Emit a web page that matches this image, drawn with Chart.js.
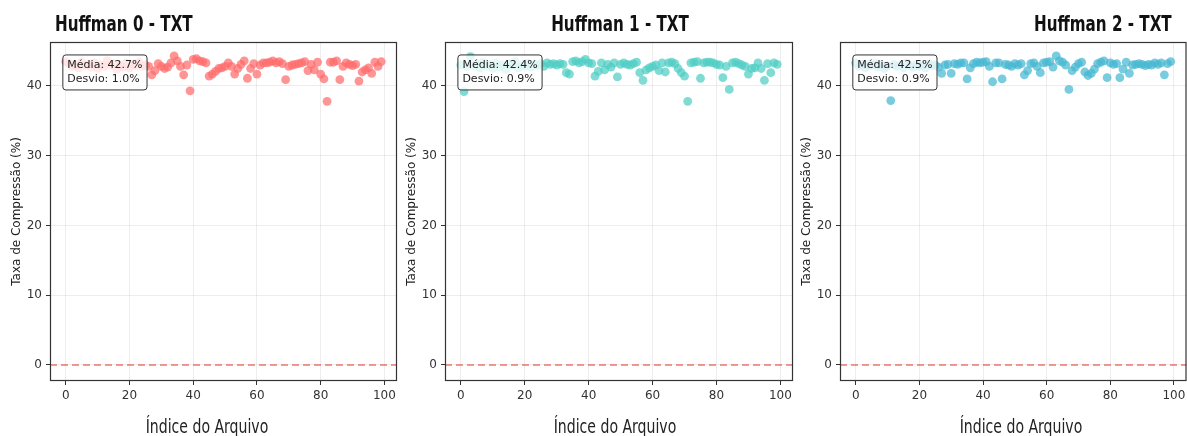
<!DOCTYPE html>
<html>
<head>
<meta charset="utf-8">
<script src="https://cdn.jsdelivr.net/npm/chart.js@4"></script>
<style>
  html, body { margin: 0; padding: 0; background: #fff; }
  #wrap { position: relative; width: 1187px; height: 436px; overflow: hidden; font-family: 'DejaVu Sans', sans-serif; }
  canvas { position: absolute; top: 0; }
  .title { position: absolute; top: 12px; font-size: 20.5px; font-weight: bold; line-height: 24px; color: #111; white-space: nowrap; transform: scaleX(0.74); }
  .xlabel { position: absolute; top: 415px; font-size: 19px; line-height: 22px; color: #222; white-space: nowrap; transform: translateX(-50%) scaleX(0.74); }
</style>
</head>
<body>
<div id="wrap">
  <canvas id="c0" width="400" height="436" style="left:0px"></canvas>
  <canvas id="c1" width="400" height="436" style="left:395px"></canvas>
  <canvas id="c2" width="397" height="436" style="left:790px"></canvas>

  <div class="title" style="left:55px; transform-origin: left center;">Huffman 0 - TXT</div>
  <div class="title" style="left:620px; transform: translateX(-50%) scaleX(0.74);">Huffman 1 - TXT</div>
  <div class="title" style="left:1034px; transform-origin: left center;">Huffman 2 - TXT</div>

  <div class="xlabel" style="left:207px">Índice do Arquivo</div>
  <div class="xlabel" style="left:615px">Índice do Arquivo</div>
  <div class="xlabel" style="left:1021px">Índice do Arquivo</div>
</div>
<script>
// compression ratio per file (%)
const huffman0 = [
  43.5, 43.2, 42.8, 43.0, 42.6, 43.4, 42.9, 43.1, 42.7, 43.3,
  42.5, 43.0, 42.8, 43.6, 42.9, 43.2, 42.4, 43.0, 42.7, 43.3,
  42.6, 43.1, 42.9, 43.4, 42.8, 43.0, 42.8, 41.6, 42.2, 43.2,
  42.8, 42.5, 42.7, 43.3, 44.3, 43.6, 42.8, 41.6, 43.0, 39.3,
  43.8, 43.9, 43.6, 43.5, 43.3, 41.4, 41.7, 42.1, 42.5, 42.6,
  42.8, 43.3, 42.8, 41.7, 42.5, 43.1, 43.6, 41.1, 42.5, 43.2,
  41.7, 43.0, 43.3, 43.3, 43.4, 43.6, 43.3, 43.5, 43.2, 40.9,
  42.8, 43.0, 43.1, 43.2, 43.3, 43.5, 42.2, 43.1, 42.3, 43.4,
  41.7, 41.0, 37.8, 43.4, 43.4, 43.6, 40.9, 42.8, 43.3, 43.1,
  42.9, 43.1, 40.7, 42.0, 42.3, 42.6, 41.8, 43.4, 42.8, 43.5
];
const huffman1 = [
  43.0, 39.2, 42.8, 44.2, 42.9, 43.2, 42.6, 43.4, 42.8, 43.1,
  42.5, 43.3, 42.7, 43.0, 42.4, 43.2, 42.9, 43.5, 42.6, 43.0,
  42.8, 43.3, 42.7, 43.1, 42.9, 43.2, 42.8, 43.3, 43.1, 43.2,
  43.0, 43.2, 43.1, 41.9, 41.7, 43.5, 43.6, 43.3, 43.5, 43.8,
  43.3, 43.2, 41.4, 42.1, 43.3, 42.3, 43.1, 42.7, 43.3, 41.3,
  43.1, 43.3, 43.1, 43.0, 43.2, 43.4, 41.9, 40.8, 42.3, 42.6,
  42.8, 43.0, 42.2, 43.3, 42.0, 43.3, 43.4, 43.2, 42.5, 41.9,
  41.4, 37.8, 43.3, 43.4, 43.5, 41.1, 43.3, 43.4, 43.4, 43.3,
  43.1, 43.0, 41.2, 42.8, 39.5, 43.3, 43.4, 43.2, 43.0, 42.8,
  41.7, 42.5, 42.6, 43.3, 42.5, 40.8, 43.2, 41.9, 43.3, 43.1
];
const huffman2 = [
  43.3, 42.8, 43.1, 42.6, 43.0, 42.9, 43.2, 42.7, 43.0, 42.5,
  42.9, 37.9, 43.1, 42.8, 43.0, 42.6, 43.3, 42.9, 42.7, 43.1,
  42.8, 43.0, 42.6, 43.2, 42.9, 43.0, 42.7, 41.8, 43.0, 43.1,
  41.8, 43.2, 43.1, 43.3, 43.3, 41.0, 42.6, 43.2, 43.4, 43.3,
  43.4, 43.5, 42.8, 40.6, 43.3, 43.3, 41.0, 43.1, 43.0, 42.8,
  43.2, 43.0, 43.2, 41.6, 42.2, 43.2, 43.3, 42.8, 41.9, 43.3,
  43.4, 43.5, 42.7, 44.3, 43.6, 43.4, 43.0, 39.5, 42.2, 42.7,
  43.2, 43.4, 42.0, 41.5, 41.8, 42.4, 43.2, 43.4, 43.6, 41.2,
  43.3, 43.1, 43.2, 41.2, 42.4, 43.4, 41.8, 43.0, 43.1, 43.2,
  43.1, 42.9, 43.1, 43.0, 43.3, 43.1, 43.3, 41.6, 43.2, 43.5
];

const seriesValues = [huffman0, huffman1, huffman2];
const meanLabels = ['42.7', '42.4', '42.5'];
const stdLabels = ['1.0', '0.9', '0.9'];
const xTicks = [0, 20, 40, 60, 80, 100];
const yTicks = [0, 10, 20, 30, 40];
const refLine = 0;

const pointColors = ['rgba(255,107,107,0.72)', 'rgba(78,205,196,0.72)', 'rgba(69,183,209,0.72)'];
const rightPad = [3, 2, 0.5];

Chart.defaults.font.family = "'DejaVu Sans', sans-serif";
Chart.defaults.color = '#333';

const framePlugin = {
  id: 'frame',
  beforeDatasetsDraw(chart) {
    const { ctx, chartArea: a, scales: { y } } = chart;
    const py = y.getPixelForValue(refLine);
    ctx.save();
    ctx.strokeStyle = 'rgba(231,76,60,0.75)';
    ctx.lineWidth = 1.5;
    ctx.setLineDash([7, 4]);
    ctx.beginPath();
    ctx.moveTo(a.left, py);
    ctx.lineTo(a.right, py);
    ctx.stroke();
    ctx.restore();
  },
  afterDatasetsDraw(chart, args, opts) {
    const { ctx, chartArea: a } = chart;
    ctx.save();
    ctx.strokeStyle = '#333';
    ctx.lineWidth = 1.2;
    ctx.strokeRect(a.left + 0.5, a.top + 0.5, a.right - a.left - 1, a.bottom - a.top - 1);

    // stats box
    const lines = ['Média: ' + opts.mean + '%', 'Desvio: ' + opts.std + '%'];
    ctx.font = "11px 'DejaVu Sans', sans-serif";
    const tx = a.left + 0.05 * (a.right - a.left);
    const ty = a.top + 0.05 * (a.bottom - a.top);
    const w = Math.max(...lines.map(l => ctx.measureText(l).width));
    const bx = tx - 4.5, by = ty - 4, bw = w + 9, bh = 35;
    ctx.beginPath();
    ctx.roundRect(bx, by, bw, bh, 3);
    ctx.fillStyle = 'rgba(255,255,255,0.8)';
    ctx.fill();
    ctx.strokeStyle = '#333';
    ctx.lineWidth = 1;
    ctx.stroke();
    ctx.fillStyle = '#222';
    ctx.textBaseline = 'alphabetic';
    ctx.fillText(lines[0], tx, ty + 9.5);
    ctx.fillText(lines[1], tx, ty + 23.5);
    ctx.restore();
  }
};

seriesValues.forEach((values, k) => {
  const ctx = document.getElementById('c' + k).getContext('2d');
  new Chart(ctx, {
    type: 'scatter',
    data: {
      datasets: [{
        data: values.map((v, i) => ({ x: i, y: v })),
        backgroundColor: pointColors[k],
        borderWidth: 0,
        pointRadius: 4.4,
        pointHoverRadius: 4.4
      }]
    },
    options: {
      responsive: false,
      animation: false,
      events: [],
      layout: { autoPadding: false, padding: { top: 42, right: rightPad[k], bottom: 0, left: 0 } },
      plugins: {
        legend: { display: false },
        tooltip: { enabled: false },
        frame: { mean: meanLabels[k], std: stdLabels[k] }
      },
      scales: {
        x: {
          type: 'linear',
          min: -4.95,
          max: 103.95,
          afterBuildTicks: s => { s.ticks = xTicks.map(v => ({ value: v })); },
          afterFit: s => { s.height = 55; s.paddingLeft = 0; s.paddingRight = 0; },
          ticks: { font: { size: 12 }, color: '#333', padding: 4 },
          grid: { color: 'rgba(0,0,0,0.07)', tickColor: '#333', tickLength: 4 },
          border: { display: false }
        },
        y: {
          type: 'linear',
          min: -2.3,
          max: 46.3,
          afterBuildTicks: s => { s.ticks = yTicks.map(v => ({ value: v })); },
          afterFit: s => { s.width = 50; s.paddingTop = 0; s.paddingBottom = 0; },
          ticks: { font: { size: 12 }, color: '#333', padding: 4 },
          grid: { color: 'rgba(0,0,0,0.07)', tickColor: '#333', tickLength: 4 },
          border: { display: false },
          title: {
            display: true,
            text: 'Taxa de Compressão (%)',
            font: { size: 12 },
            color: '#222',
            padding: { top: 10, bottom: 0 }
          }
        }
      }
    },
    plugins: [framePlugin]
  });
});
</script>
</body>
</html>
